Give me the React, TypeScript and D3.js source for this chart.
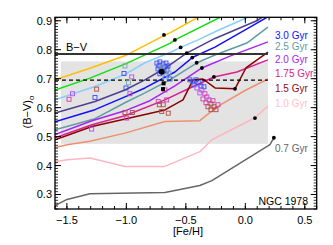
import React from "react";
import * as d3 from "d3";

// ---- data ----
const xTicks = [-1.5, -1.0, -0.5, 0.0, 0.5];
const yTicks = [0.3, 0.4, 0.5, 0.6, 0.7, 0.8, 0.9];

const bvObserved = 0.785;
const bvDashed = 0.695;
const boxFeh = [-1.55, 0.19];
const boxBV = [0.475, 0.76];

const isoGold = [[-1.6, 0.696], [-1.306, 0.736], [-0.997, 0.782], [-0.684, 0.849], [-0.634, 0.858], [-0.398, 0.912]];
const isoGreen = [[-1.6, 0.661], [-1.306, 0.702], [-0.998, 0.753], [-0.634, 0.822], [-0.592, 0.834], [-0.213, 0.912]];
const isoSky = [[-1.6, 0.627], [-1.264, 0.673], [-1.012, 0.715], [-0.844, 0.755], [-0.619, 0.793], [-0.544, 0.808], [-0.396, 0.834], [-0.255, 0.862], [-0.003, 0.908], [0.02, 0.912]];
const isoSlate = [[-1.6, 0.581], [-1.264, 0.621], [-1.012, 0.661], [-0.844, 0.696], [-0.676, 0.736], [-0.493, 0.788], [-0.255, 0.839], [0.106, 0.902], [0.14, 0.912]];
const iso30 = [[-1.6, 0.551], [-1.264, 0.593], [-1.012, 0.637], [-0.844, 0.668], [-0.592, 0.723], [-0.446, 0.773], [-0.255, 0.809], [0.039, 0.878], [0.182, 0.912]];
const iso25 = [[-1.6, 0.524], [-1.264, 0.562], [-1.012, 0.617], [-0.844, 0.651], [-0.634, 0.696], [-0.407, 0.755], [-0.255, 0.782], [0.013, 0.823], [0.19, 0.878]];
const iso20 = [[-1.6, 0.507], [-1.289, 0.555], [-1.012, 0.589], [-0.802, 0.624], [-0.592, 0.675], [-0.365, 0.737], [-0.129, 0.778], [0.19, 0.827]];
const iso175 = [[-1.6, 0.496], [-1.289, 0.541], [-1.012, 0.572], [-0.676, 0.627], [-0.466, 0.668], [-0.264, 0.706], [-0.071, 0.723], [0.19, 0.765]];
const iso15 = [[-1.6, 0.489], [-1.289, 0.535], [-0.676, 0.592], [-0.524, 0.627], [-0.44, 0.696], [-0.356, 0.699], [-0.255, 0.668], [-0.087, 0.665], [0.005, 0.737], [0.19, 0.792]];
const iso125 = [[-1.6, 0.462], [-1.499, 0.472], [-1.306, 0.484], [-1.012, 0.512], [-0.676, 0.552], [-0.382, 0.555], [-0.323, 0.575], [-0.213, 0.609], [0.005, 0.661], [0.19, 0.699]];
const iso10 = [[-1.6, 0.413], [-1.499, 0.42], [-1.306, 0.426], [-1.012, 0.397], [-0.676, 0.397], [-0.382, 0.448], [-0.281, 0.489], [0.081, 0.565], [0.19, 0.606]];
const iso07 = [[-1.6, 0.262], [-1.499, 0.283], [-1.306, 0.303], [-0.676, 0.307], [-0.508, 0.321], [-0.382, 0.331], [-0.281, 0.348], [0.207, 0.472], [0.24, 0.496]];

const isoDots = [[-0.684, 0.851], [-0.592, 0.834], [-0.544, 0.808], [-0.493, 0.788], [-0.446, 0.773], [-0.409, 0.755], [-0.365, 0.737], [-0.264, 0.706], [-0.087, 0.665], [0.081, 0.564], [0.24, 0.496]];

const blackCircle = [[-0.703, 0.724]];
const blackSquares = [[-0.687, 0.684], [-0.692, 0.664]];

const sqBlue = [[-1.264, 0.635], [-1.02, 0.718], [-1.003, 0.668],
  [-0.743, 0.754], [-0.718, 0.758], [-0.692, 0.751], [-0.667, 0.754], [-0.726, 0.744], [-0.676, 0.741], [-0.65, 0.744],
  [-0.734, 0.734], [-0.709, 0.73], [-0.684, 0.727], [-0.659, 0.73], [-0.718, 0.717], [-0.667, 0.713], [-0.634, 0.699],
  [-0.466, 0.696], [-0.44, 0.689], [-0.415, 0.696], [-0.39, 0.686], [-0.432, 0.679], [-0.373, 0.675], [-0.348, 0.672]];
const sqTeal = [[-1.012, 0.744], [-0.982, 0.686], [-0.701, 0.741], [-0.642, 0.72]];
const sqSky = [[-0.676, 0.706]];
const sqViolet = [[-1.453, 0.648], [-1.292, 0.526], [-0.955, 0.706], [-0.407, 0.668], [-0.365, 0.661], [-0.382, 0.651], [-0.323, 0.637]];
const sqMagenta = [[-1.482, 0.629], [-0.97, 0.648], [-0.997, 0.564], [-0.676, 0.661], [-0.661, 0.627], [-0.732, 0.621],
  [-0.34, 0.648], [-0.356, 0.63], [-0.306, 0.627], [-0.331, 0.617], [-0.272, 0.624], [-0.23, 0.61]];
const sqRed = [[-1.25, 0.664], [-1.012, 0.583], [-0.95, 0.583], [-0.723, 0.61], [-0.69, 0.61], [-0.703, 0.587], [-0.648, 0.581],
  [-0.289, 0.613], [-0.314, 0.603], [-0.264, 0.603], [-0.247, 0.593], [-0.289, 0.593]];

const legendLabels = ["3.0 Gyr", "2.5 Gyr", "2.0 Gyr", "1.75 Gyr", "1.5 Gyr", "1.0 Gyr"];

// ---- styles ----
const W = 333, H = 245;
const L = 55, R = 316.7, T = 17.3, B = 209;
const FONT = "'Liberation Sans', Arial, Helvetica, sans-serif";

const isoSeries = [
  { d: isoGold, c: "#ffbf00" },
  { d: isoGreen, c: "#11dd11" },
  { d: isoSky, c: "#87cefa" },
  { d: isoSlate, c: "#4b3f8e" },
  { d: iso30, c: "#1010ff" },
  { d: iso25, c: "#5f9ea0" },
  { d: iso20, c: "#a626f0" },
  { d: iso175, c: "#d8208e" },
  { d: iso15, c: "#8b0000" },
  { d: iso125, c: "#ee9070" },
  { d: iso10, c: "#ffb6c1" },
  { d: iso07, c: "#666666" },
];
const legendColors = ["#1010ff", "#5f9ea0", "#a626f0", "#d8208e", "#8b1010", "#ffc0cb"];
const legendY = [35.5, 46.5, 59.2, 73.7, 88.5, 103.3];

const squareGroups = [
  { d: sqBlue, c: "#3a4cf0" },
  { d: sqTeal, c: "#7fa8a8" },
  { d: sqSky, c: "#88bbee" },
  { d: sqViolet, c: "#b050f0" },
  { d: sqMagenta, c: "#d040b0" },
  { d: sqRed, c: "#b04a4a" },
];

export default function App() {
  const x = d3.scaleLinear().domain([-1.6, 0.6]).range([L, R]);
  const y = d3.scaleLinear().domain([0.25, 0.912]).range([B, T]);
  const line = d3.line<number[]>().x((p) => x(p[0])).y((p) => y(p[1]));

  const xMinor = d3.range(-1.6, 0.6001, 0.1).map((v) => +v.toFixed(2));
  const yMinor = d3.range(0.25, 0.9121, 0.01).map((v) => +v.toFixed(3));
  const fmt = (v: number) => (v < 0 ? "\u2212" : "") + Math.abs(v).toFixed(1);

  return (
    <svg width={W} height={H} style={{ position: "absolute", left: 0, top: 0, background: "#fff" }} fontFamily={FONT}>
      <defs>
        <clipPath id="plotclip">
          <rect x={L} y={T} width={R - L} height={B - T} />
        </clipPath>
      </defs>
      {/* grey box */}
      <rect x={x(boxFeh[0])} y={y(boxBV[1])} width={x(boxFeh[1]) - x(boxFeh[0])} height={y(boxBV[0]) - y(boxBV[1])} fill="#e3e3e3" />
      <g clipPath="url(#plotclip)">
        {isoSeries.map((s, i) => (
          <path key={i} d={line(s.d) || ""} fill="none" stroke={s.c} strokeWidth={1.5} strokeLinejoin="round" />
        ))}
        {/* observed B-V line */}
        <line x1={x(-1.6)} x2={x(0.19)} y1={y(bvObserved)} y2={y(bvObserved)} stroke="#333" strokeWidth={2} />
        <line x1={x(-1.6)} x2={x(0.19)} y1={y(bvDashed)} y2={y(bvDashed)} stroke="#000" strokeWidth={1.4} strokeDasharray="4,3" />
        {squareGroups.map((g, gi) =>
          g.d.map((p, i) => (
            <rect key={gi + "-" + i} x={x(p[0]) - 2} y={y(p[1]) - 2} width={4} height={4} fill="none" stroke={g.c} strokeWidth={0.9} />
          ))
        )}
        {isoDots.map((p, i) => (
          <circle key={i} cx={x(p[0])} cy={y(p[1])} r={1.9} fill="#000" />
        ))}
        {blackCircle.map((p, i) => (
          <circle key={i} cx={x(p[0])} cy={y(p[1])} r={3} fill="#000" />
        ))}
        {blackSquares.map((p, i) => (
          <rect key={i} x={x(p[0]) - 2} y={y(p[1]) - 2} width={4} height={4} fill="#000" />
        ))}
      </g>
      {/* frame */}
      <rect x={L} y={T} width={R - L} height={B - T} fill="none" stroke="#000" strokeWidth={1.3} />
      {/* x ticks */}
      {xMinor.map((v, i) => (
        <g key={"xm" + i}>
          <line x1={x(v)} x2={x(v)} y1={B} y2={B - 3} stroke="#000" strokeWidth={1} />
          <line x1={x(v)} x2={x(v)} y1={T} y2={T + 3} stroke="#000" strokeWidth={1} />
        </g>
      ))}
      {xTicks.map((v, i) => (
        <g key={"xt" + i}>
          <line x1={x(v)} x2={x(v)} y1={B} y2={B - 6} stroke="#000" strokeWidth={1} />
          <line x1={x(v)} x2={x(v)} y1={T} y2={T + 6} stroke="#000" strokeWidth={1} />
          <text x={x(v)} y={224} textAnchor="middle" fontSize={11} fill="#000">{fmt(v)}</text>
        </g>
      ))}
      {/* y ticks */}
      {yMinor.map((v, i) => (
        <g key={"ym" + i}>
          <line x1={L} x2={L + 3} y1={y(v)} y2={y(v)} stroke="#000" strokeWidth={0.8} />
          <line x1={R} x2={R - 3} y1={y(v)} y2={y(v)} stroke="#000" strokeWidth={0.8} />
        </g>
      ))}
      {yTicks.map((v, i) => (
        <g key={"yt" + i}>
          <line x1={L} x2={L + 6} y1={y(v)} y2={y(v)} stroke="#000" strokeWidth={1} />
          <line x1={R} x2={R - 6} y1={y(v)} y2={y(v)} stroke="#000" strokeWidth={1} />
          <text x={52} y={y(v)} dy="0.36em" textAnchor="end" fontSize={11} fill="#000">{v.toFixed(1)}</text>
        </g>
      ))}
      {/* axis titles */}
      <text x={188} y={235} textAnchor="middle" fontSize={11} fill="#000">[Fe/H]</text>
      <text transform="translate(31,112) rotate(-90)" textAnchor="middle" fontSize={11} fill="#000">
        (B{"\u2212"}V)<tspan fontSize={8} dy={3}>o</tspan>
      </text>
      {/* annotations */}
      <text x={66} y={47} dy="0.36em" fontSize={11} fill="#000">B{"\u2212"}V</text>
      {legendLabels.map((t, i) => (
        <text key={t} x={275} y={legendY[i]} dy="0.36em" fontSize={10} fill={legendColors[i]}>{t}</text>
      ))}
      <text x={275} y={148} dy="0.36em" fontSize={10} fill="#666">0.7 Gyr</text>
      <text x={308} y={201} dy="0.36em" textAnchor="end" fontSize={10.5} fill="#000">NGC 1978</text>
    </svg>
  );
}
